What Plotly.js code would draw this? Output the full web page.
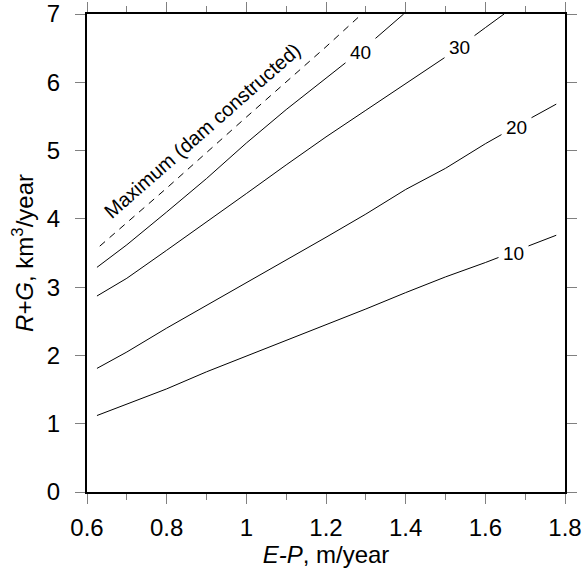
<!DOCTYPE html>
<html>
<head>
<meta charset="utf-8">
<script src="https://cdn.plot.ly/plotly-3.0.1.min.js"></script>
<style>html,body{margin:0;padding:0;background:#fff;}#chart{width:585px;height:580px;}</style>
</head>
<body>
<div id="chart"></div>
<script>
// E-P (m/year) values for each contour
const x10 = [0.625, 0.7, 0.8, 0.9, 1.0, 1.1, 1.2, 1.3, 1.4, 1.5, 1.6, 1.7, 1.778];
const y10 = [1.12, 1.29, 1.51, 1.76, 1.99, 2.21, 2.44, 2.68, 2.92, 3.15, 3.36, 3.58, 3.76];
const x20 = [0.625, 0.7, 0.8, 0.9, 1.0, 1.1, 1.2, 1.3, 1.4, 1.5, 1.6, 1.7, 1.778];
const y20 = [1.81, 2.05, 2.40, 2.73, 3.06, 3.39, 3.73, 4.07, 4.43, 4.74, 5.10, 5.43, 5.68];
const x30 = [0.625, 0.7, 0.8, 0.9, 1.0, 1.1, 1.2, 1.3, 1.4, 1.5, 1.6, 1.647];
const y30 = [2.87, 3.13, 3.54, 3.95, 4.37, 4.79, 5.20, 5.59, 5.98, 6.37, 6.80, 7.0];
const x40 = [0.625, 0.7, 0.8, 0.9, 1.0, 1.1, 1.2, 1.3, 1.395];
const y40 = [3.29, 3.62, 4.10, 4.59, 5.11, 5.60, 6.06, 6.52, 7.0];
const xMax = [0.632, 0.8, 1.0, 1.2, 1.29];
const yMax = [3.60, 4.45, 5.49, 6.52, 7.0];

const contourLabels = ["10", "20", "30", "40"];
const labelX = [1.670, 1.677, 1.535, 1.286];
const labelY = [3.50, 5.335, 6.507, 6.433];
const maxLabel = "Maximum (dam constructed)";

const FONT = "Liberation Sans, Arial, Helvetica, sans-serif";
const solid = {color: "#000", width: 1};
const traces = [
  {x: x10, y: y10, mode: "lines", line: solid, hoverinfo: "skip"},
  {x: x20, y: y20, mode: "lines", line: solid, hoverinfo: "skip"},
  {x: x30, y: y30, mode: "lines", line: solid, hoverinfo: "skip"},
  {x: x40, y: y40, mode: "lines", line: solid, hoverinfo: "skip"},
  {x: xMax, y: yMax, mode: "lines", line: {color: "#000", width: 1, dash: "7px,6px"}, hoverinfo: "skip"}
];

const annotations = contourLabels.map((t, i) => ({
  x: labelX[i], y: labelY[i], xref: "x", yref: "y", text: t, showarrow: false,
  font: {family: FONT, size: 19, color: "#000"}, bgcolor: "#fff", borderpad: 4,
  xanchor: "center", yanchor: "middle"
}));
annotations.push({
  x: 0.889, y: 5.28, xref: "x", yref: "y", text: maxLabel, showarrow: false,
  textangle: -41.3, font: {family: FONT, size: 20, color: "#000"},
  xanchor: "center", yanchor: "middle"
});

const layout = {
  width: 585, height: 580,
  margin: {l: 87, r: 20, t: 14, b: 88, autoexpand: false},
  paper_bgcolor: "#fff", plot_bgcolor: "#fff",
  showlegend: false,
  font: {family: FONT, size: 24, color: "#000"},
  xaxis: {
    range: [0.6, 1.8], tick0: 0.6, dtick: 0.2, automargin: true,
    ticks: "outside", ticklen: 10, tickwidth: 1, tickcolor: "#808080",
    showline: true, linecolor: "#000", linewidth: 2, mirror: "allticks",
    minor: {dtick: 0.1, ticks: "outside", ticklen: 6, tickwidth: 1, tickcolor: "#808080", showgrid: false},
    showgrid: false, zeroline: false, ticklabelstandoff: 3,
    tickfont: {family: FONT, size: 24, color: "#000"},
    title: {text: "<i>E-P</i>, m/year", font: {family: FONT, size: 24, color: "#000"}, standoff: 6}
  },
  yaxis: {
    range: [0, 7], tick0: 0, dtick: 1, automargin: true,
    ticks: "outside", ticklen: 10, tickwidth: 1, tickcolor: "#808080",
    showline: true, linecolor: "#000", linewidth: 2, mirror: "allticks",
    showgrid: false, zeroline: false, ticklabelstandoff: 10,
    tickfont: {family: FONT, size: 24, color: "#000"},
    title: {text: "<i>R+G</i>, km<sup>3</sup>/year", font: {family: FONT, size: 24, color: "#000"}, standoff: 6}
  },
  annotations: annotations
};

Plotly.newPlot("chart", traces, layout, {staticPlot: true, displayModeBar: false});
</script>
</body>
</html>
